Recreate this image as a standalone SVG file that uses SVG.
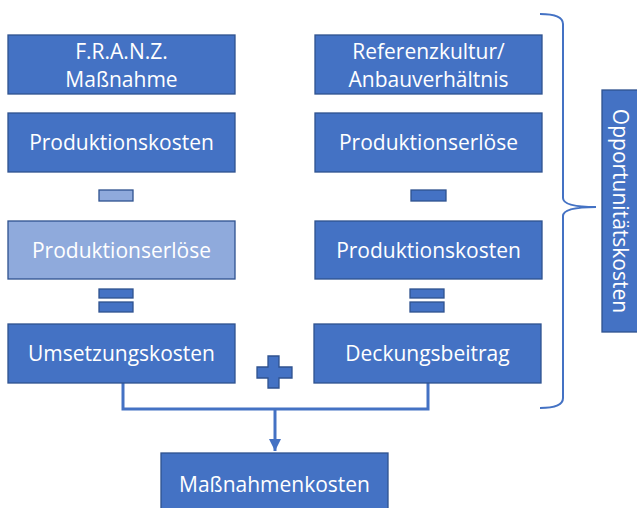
<svg xmlns="http://www.w3.org/2000/svg" width="637" height="508" viewBox="0 0 637 508">
<style>
.box{fill:#4472C4;stroke:#2F528F;stroke-width:1.3}
.light{fill:#8FAADC;stroke:#2F528F;stroke-width:1.3}
.t{fill:#fff;font-family:"Open Sans","Liberation Sans",sans-serif;font-size:21px;text-anchor:middle;dominant-baseline:central}
.con{fill:none;stroke:#4472C4;stroke-width:3}
.brace{fill:none;stroke:#4472C4;stroke-width:2}
</style>
<defs>
<marker id="arr" viewBox="0 0 10 10" refX="10" refY="5" markerWidth="4" markerHeight="4" orient="auto" markerUnits="strokeWidth">
<path d="M0,0 L10,5 L0,10 z" fill="#4472C4"/>
</marker>
</defs>
<g id="connectors">
<path class="con" d="M123,383 V409 H428 V383"/>
<path class="con" d="M275,409 V451" marker-end="url(#arr)"/>
<path class="brace" d="M540,14 Q563,14 563,24 V198 Q563,207 596,207 Q563,207 563,216 V398 Q563,408 540,408"/>
</g>
<g id="n1"><rect class="box" x="8" y="35" width="227" height="59"/><text class="t" x="121.5" y="51">F.R.A.N.Z.</text><text class="t" x="121.5" y="79">Maßnahme</text></g>
<g id="n2"><rect class="box" x="8" y="113" width="227" height="59"/><text class="t" x="121.5" y="142">Produktionskosten</text></g>
<g id="minus1"><rect class="light" x="99" y="190" width="34" height="11"/></g>
<g id="n3"><rect class="light" x="8" y="221" width="227" height="58"/><text class="t" x="121.5" y="250">Produktionserlöse</text></g>
<g id="eq1"><rect class="box" x="99" y="289" width="34" height="9"/><rect class="box" x="99" y="302" width="34" height="10"/></g>
<g id="n4"><rect class="box" x="8" y="324" width="227" height="59"/><text class="t" x="121.5" y="353">Umsetzungskosten</text></g>
<g id="r1"><rect class="box" x="315" y="35" width="227" height="59"/><text class="t" x="428.5" y="51">Referenzkultur/</text><text class="t" x="428.5" y="79">Anbauverhältnis</text></g>
<g id="r2"><rect class="box" x="315" y="113" width="227" height="59"/><text class="t" x="428.5" y="142">Produktionserlöse</text></g>
<g id="minus2"><rect class="box" x="411" y="190" width="35" height="11"/></g>
<g id="r3"><rect class="box" x="315" y="221" width="227" height="58"/><text class="t" x="428.5" y="250">Produktionskosten</text></g>
<g id="eq2"><rect class="box" x="410" y="289" width="34" height="9"/><rect class="box" x="410" y="302" width="34" height="10"/></g>
<g id="r4"><rect class="box" x="314" y="324" width="227" height="59"/><text class="t" x="427.5" y="353">Deckungsbeitrag</text></g>
<g id="plus"><path class="box" d="M268,356 H279 V367 H292 V378 H279 V388 H268 V378 H257 V367 H268 Z"/></g>
<g id="opp"><rect class="box" x="602" y="90" width="40" height="242"/><text class="t" transform="translate(621,211) rotate(90)">Opportunitätskosten</text></g>
<g id="result"><rect class="box" x="161" y="453" width="227" height="60"/><text class="t" x="274.5" y="484">Maßnahmenkosten</text></g>
</svg>
